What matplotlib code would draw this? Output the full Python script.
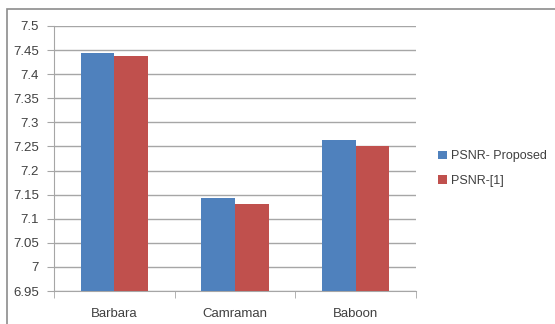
import matplotlib.pyplot as plt
from matplotlib.patches import Rectangle
import numpy as np

imagens = ['Barbara', 'Camraman', 'Baboon']
psnr_proposto = [7.445, 7.143, 7.264]
psnr_ref = [7.438, 7.130, 7.250]
yticks = [6.95, 7, 7.05, 7.1, 7.15, 7.2, 7.25, 7.3, 7.35, 7.4, 7.45, 7.5]

plt.rcParams['font.family'] = ['Liberation Sans', 'DejaVu Sans']

fig = plt.figure(figsize=(5.55, 3.24), dpi=100)
ax = fig.add_axes([54 / 555, 1 - 291 / 324, (416 - 54) / 555, (291 - 26) / 324])

# moldura cinza em volta do grafico
fig.patches.append(Rectangle((7 / 555, -0.1), 1.2, (324 - 9.5) / 324 + 0.1,
                             transform=fig.transFigure, fill=False,
                             edgecolor='#8c8c8c', linewidth=1.2))

x = np.arange(len(imagens))
w = 0.28
ax.bar(x - w / 2, psnr_proposto, w, color='#4f81bd', label='PSNR- Proposed', zorder=3)
ax.bar(x + w / 2, psnr_ref, w, color='#c0504d', label='PSNR-[1]', zorder=3)

ax.set_ylim(6.95, 7.5)
ax.set_xlim(-0.5, 2.5)
ax.set_yticks(yticks)
ax.set_yticklabels([f'{v:g}' for v in yticks])
ax.yaxis.grid(True, color='#a6a6a6', linewidth=1, zorder=0)
ax.set_xticks(x)
ax.set_xticklabels(imagens)
ax.set_xticks([-0.5, 0.5, 1.5, 2.5], minor=True)
ax.tick_params(axis='x', which='major', length=0, pad=12, labelsize=9.5, colors='#404040')
ax.tick_params(axis='x', which='minor', length=5, color='#a6a6a6')
ax.tick_params(axis='y', length=5, color='#a6a6a6', labelsize=9.5, labelcolor='#404040', pad=6)
for s in ['top', 'right']:
    ax.spines[s].set_visible(False)
for s in ['left', 'bottom']:
    ax.spines[s].set_color('#a6a6a6')

ax.legend(loc='center left', bbox_to_anchor=(1.03, 0.462), frameon=False,
          fontsize=9, handlelength=0.7, handleheight=0.7, handletextpad=0.3,
          labelspacing=1.0, labelcolor='#404040')

fig.savefig('out.png', dpi=100)
